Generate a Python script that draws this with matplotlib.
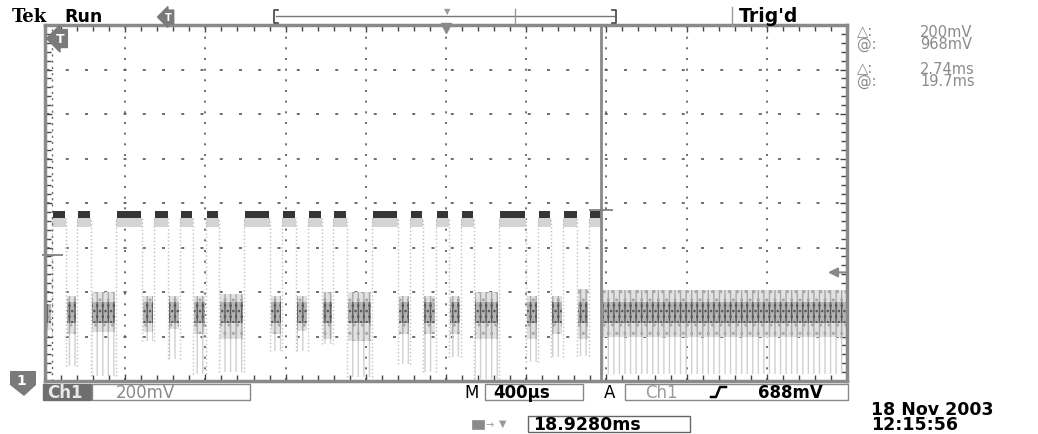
import matplotlib
matplotlib.use("Agg")
import matplotlib.pyplot as plt
from matplotlib.lines import Line2D
from matplotlib.patches import Polygon, Rectangle
from matplotlib.ticker import MultipleLocator

W, H = 1038, 435

# ---------------- data ----------------
# time axis in ms from the left edge of the screen (10 div x 400 us)
pulse_start_ms = [0.035, 0.160, 0.354, 0.544, 0.673, 0.803, 0.993, 1.182, 1.312,
                  1.436, 1.631, 1.821, 1.950, 2.075, 2.265, 2.459, 2.584, 2.713]
pulse_end_ms = [0.105, 0.229, 0.484, 0.614, 0.738, 0.868, 1.122, 1.252, 1.382,
                1.506, 1.761, 1.885, 2.015, 2.140, 2.399, 2.524, 2.654, 2.778]
# high level (V)
high_top_v = 0.964
high_mid_v = 0.933
high_low_v = 0.890
# noise envelope of each low segment (before first pulse, between pulses, after last)
low_top_v = [0.546, 0.582, 0.600, 0.582, 0.582, 0.582, 0.591, 0.582, 0.582, 0.600,
             0.600, 0.582, 0.582, 0.582, 0.600, 0.582, 0.582, 0.613, 0.610]
low_bottom_v = [0.434, 0.411, 0.420, 0.420, 0.434, 0.411, 0.389, 0.411, 0.425, 0.389,
                0.380, 0.411, 0.411, 0.411, 0.389, 0.389, 0.411, 0.389, 0.400]
spike_min_v = [0.400, 0.267, 0.222, 0.380, 0.299, 0.231, 0.240, 0.335, 0.335, 0.366,
               0.218, 0.276, 0.240, 0.308, 0.209, 0.285, 0.308, 0.312, 0.231]
core_top_v = 0.555
core_bottom_v = 0.462
# paired cursors and trigger
cursor_t_ms = [0.035, 2.773]
cursor_mark_v = [0.768, 0.968]
trigger_level_v = 0.688
screen_t_ms = (0.0, 4.0)
screen_v = (0.2, 1.8)
time_div_ms = 0.4
volt_div_v = 0.2

# ---------------- figure ----------------
plt.rcParams['hatch.linewidth'] = 1.0
fig = plt.figure(figsize=(W / 100, H / 100), dpi=100)
fig.patch.set_facecolor('white')


def fx(x):
    return x / W


def fy(y):
    return 1 - y / H


ax = fig.add_axes([fx(45), fy(382), 802 / W, 356 / H])
ax.set_xlim(*screen_t_ms)
ax.set_ylim(*screen_v)
ax.set_facecolor('white')

# graticule
ax.xaxis.set_major_locator(MultipleLocator(time_div_ms))
ax.xaxis.set_minor_locator(MultipleLocator(time_div_ms / 5))
ax.yaxis.set_major_locator(MultipleLocator(volt_div_v))
ax.yaxis.set_minor_locator(MultipleLocator(volt_div_v / 5))
ax.xaxis.grid(True, which='major', color='#555555', linewidth=1.2,
              linestyle=(-0.6, (1.2, 5.2)))
ax.yaxis.grid(True, which='major', color='#555555', linewidth=1.2,
              linestyle=(-0.9, (1.8, 9.75)))
ax.tick_params(which='both', direction='in', length=4, width=1, color='#444444',
               top=True, right=True, labelbottom=False, labelleft=False)
ax.tick_params(which='major', length=5)
for sp in ax.spines.values():
    sp.set_color('#8a8a8a')
    sp.set_linewidth(2.5)
ax.set_axisbelow(True)

# low-level noise segments
gap_start = [screen_t_ms[0]] + pulse_end_ms
gap_end = pulse_start_ms + [screen_t_ms[1]]
m = 0.005
for i, (a, b) in enumerate(zip(gap_start, gap_end)):
    xs = [a + m, b - m]
    ax.fill_between(xs, spike_min_v[i], low_bottom_v[i], facecolor='none',
                    edgecolor='#d0d0d0', hatch='|||', linewidth=0)
    ax.fill_between(xs, low_bottom_v[i], low_top_v[i], facecolor='#e2e2e2',
                    edgecolor='#a8a8a8', hatch='|||..', linewidth=0)
    ax.fill_between(xs, max(core_bottom_v, low_bottom_v[i]),
                    min(core_top_v, low_top_v[i]), facecolor='#b4b4b4',
                    edgecolor='#5a5a5a', hatch='|||...', linewidth=0)

# pulses
for k, (s, e) in enumerate(zip(pulse_start_ms, pulse_end_ms)):
    ax.vlines(s, spike_min_v[k], high_mid_v, colors='#c0c0c0', linestyles=':', lw=1)
    ax.vlines(e, spike_min_v[k + 1], high_mid_v, colors='#c0c0c0', linestyles=':', lw=1)
    ax.fill_between([s, e], high_low_v, high_mid_v, color='#d4d4d4', linewidth=0)
    ax.fill_between([s + 0.003, e - 0.003], high_mid_v, high_top_v,
                    color='#363636', linewidth=0)

# paired cursors
ax.axvline(cursor_t_ms[0], color='#666666', lw=1, linestyle=(0, (1.5, 3)))
ax.axvline(cursor_t_ms[1], color='#8a8a8a', lw=2)
ax.hlines(cursor_mark_v[0], cursor_t_ms[0] - 0.05, cursor_t_ms[0] + 0.055,
          colors='#777777', lw=1.2, clip_on=False)
ax.hlines(cursor_mark_v[1], cursor_t_ms[1] - 0.06, cursor_t_ms[1] + 0.06,
          colors='#777777', lw=1.2)

# trigger level arrow (right edge)
ax.annotate('', xy=(3.905, trigger_level_v), xytext=(4.0, trigger_level_v),
            arrowprops=dict(arrowstyle='-|>', color='#888888', lw=1.5,
                            mutation_scale=14, shrinkA=0, shrinkB=0))
# expansion point marker (top centre)
ax.plot([sum(screen_t_ms) / 2], [screen_v[1] - 0.015], marker='v', ms=7,
        color='#888888', clip_on=False)
# trigger position marker inside the graticule
ax.text(0.014, 0.962, 'T', transform=ax.transAxes, color='white', fontsize=9,
        fontweight='bold', va='center', ha='left',
        bbox=dict(boxstyle='larrow,pad=0.2', fc='#7a7a7a', ec='#7a7a7a'))

# ---------------- top bar ----------------
fig.text(fx(12), fy(17), 'Tek', fontfamily='DejaVu Serif', fontweight='bold',
         fontsize=13, va='center', ha='left')
fig.text(fx(64), fy(17), 'Run', fontfamily='DejaVu Sans', fontweight='bold',
         fontsize=12.5, va='center', ha='left')
fig.text(fx(165), fy(18), 'T', color='white', fontsize=7, fontweight='bold',
         va='center', ha='left',
         bbox=dict(boxstyle='larrow,pad=0.2', fc='#7a7a7a', ec='#7a7a7a'))


def fline(xs, ys, **kw):
    fig.add_artist(Line2D([fx(x) for x in xs], [fy(y) for y in ys],
                          transform=fig.transFigure, **kw))


fline([278, 274, 274, 278], [11, 11, 24, 24], color='#444444', lw=1.2)
fline([276, 614], [17, 17], color='#777777', lw=1)
fline([612, 616, 616, 612], [11, 11, 24, 24], color='#444444', lw=1.2)
fline([515, 515], [10, 24], color='#999999', lw=1)
fig.text(fx(447), fy(12), '\u25BC', color='#999999', fontsize=6, ha='center', va='center')
fline([732, 732], [8, 27], color='#999999', lw=1)
fig.text(fx(739), fy(17), "Trig'd", fontfamily='DejaVu Sans', fontweight='bold',
         fontsize=13.5, va='center', ha='left')

# right readouts (two-line blocks)
ro = dict(fontfamily='DejaVu Sans', fontsize=10.5, color='#8a8a8a', va='center',
          ha='left', linespacing=0.8)
fig.text(fx(857), fy(38.5), '\u25B3:\n@:', **ro)
fig.text(fx(920), fy(38.5), '200mV\n968mV', **ro)
fig.text(fx(857), fy(75.5), '\u25B3:\n@:', **ro)
fig.text(fx(920), fy(75.5), '2.74ms\n19.7ms', **ro)


def frect(x0, y0, x1, y1, **kw):
    fig.add_artist(Rectangle((fx(x0), fy(y1)), (x1 - x0) / W, (y1 - y0) / H,
                             transform=fig.transFigure, **kw))


# ---------------- bottom bar ----------------
fig.add_artist(Polygon([(fx(10), fy(372)), (fx(36), fy(372)), (fx(36), fy(386)),
                        (fx(24), fy(397)), (fx(10), fy(386))],
                       closed=True, transform=fig.transFigure, fc='#7a7a7a', ec='none'))
fig.text(fx(21), fy(381), '1', color='white', fontsize=10, fontweight='bold',
         ha='center', va='center')
frect(43, 385, 91, 401, fc='#6e6e6e', ec='#6e6e6e', lw=1)
fig.text(fx(47), fy(393), 'Ch1', color='#e8e8e8', fontsize=12, fontweight='bold',
         va='center', ha='left')
frect(92, 385, 250, 401, fill=False, ec='#888888', lw=1)
fig.text(fx(116), fy(393), '200mV', color='#8a8a8a', fontsize=12, va='center', ha='left')

fig.text(fx(464), fy(393), 'M', color='black', fontsize=12, va='center', ha='left')
frect(485, 385, 583, 401, fill=False, ec='#888888', lw=1)
fig.text(fx(493), fy(393), '400\u00b5s', color='black', fontsize=12, fontweight='bold',
         va='center', ha='left')
fig.text(fx(604), fy(393), 'A', color='black', fontsize=12, va='center', ha='left')
frect(625, 385, 848, 401, fill=False, ec='#888888', lw=1)
fig.text(fx(645), fy(393), 'Ch1', color='#9a9a9a', fontsize=12, va='center', ha='left')
fline([711, 716, 720, 726], [398, 398, 388, 388], color='black', lw=1.8)
fig.text(fx(758), fy(393), '688mV', color='black', fontsize=12, fontweight='bold',
         va='center', ha='left')

# horizontal position readout
frect(472, 421, 484, 430, fc='#8a8a8a', ec='#8a8a8a', lw=0.5)
fig.text(fx(490), fy(425), '\u2192', color='#999999', fontsize=7, ha='center', va='center')
fig.text(fx(503), fy(424), '\u25BC', color='#999999', fontsize=7, ha='center', va='center')
frect(528, 417, 690, 433, fill=False, ec='#666666', lw=1)
fig.text(fx(533), fy(425), '18.9280ms', color='black', fontsize=12.5, fontweight='bold',
         va='center', ha='left')

# date / time (two-line block)
fig.text(fx(871), fy(417.5), '18 Nov 2003\n12:15:56', color='black', fontsize=12.5,
         fontweight='bold', va='center', ha='left', linespacing=0.85)

fig.savefig('out.png', dpi=100, facecolor='white')
